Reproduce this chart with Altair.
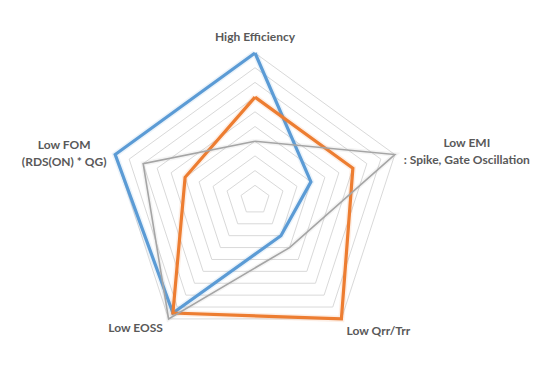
import math
import altair as alt
import pandas as pd

# ---- data ----
categories = ["High Efficiency", "Low EMI", "Low Qrr/Trr", "Low EOSS", "Low FOM"]
axis_labels = ["High Efficiency", "Low EMI\n: Spike, Gate Oscillation", "Low Qrr/Trr",
               "Low EOSS", "Low FOM\n(RDS(ON) * QG)"]
series_names = ["Series 1", "Series 2", "Series 3"]
series1 = [10, 4, 3, 9.5, 10]
series2 = [7, 7, 10, 9.5, 5]
series3 = [4, 10, 4, 10, 8]
grid_levels = [1, 2, 3, 4, 5, 6, 7, 8, 9, 10]
max_value = 10

# ---- layout ----
W, H = 537, 351
CX, CY = 247, 192          # centre of radar inside the plot area (px)
UNIT = 14.7                # px per value unit
x_dom = [-CX / UNIT, (W - CX) / UNIT]
y_dom = [-(H - CY) / UNIT, CY / UNIT]
N = len(categories)

xs = alt.Scale(domain=x_dom)
ys = alt.Scale(domain=y_dom)

def poly_rows(name, vals):
    rows = []
    for k in range(N + 1):
        rows.append({"series": name, "k": k, "cat": categories[k % N], "v": vals[k % N]})
    return rows

calc_x = f"datum.v * sin(datum.k * 2 * PI / {N})"
calc_y = f"datum.v * cos(datum.k * 2 * PI / {N})"

def base(df):
    return (alt.Chart(df)
            .transform_calculate(x=calc_x, y=calc_y)
            .encode(x=alt.X("x:Q", scale=xs, axis=None),
                    y=alt.Y("y:Q", scale=ys, axis=None)))

# grid rings
grid_rows = []
for lv in grid_levels:
    for k in range(N + 1):
        grid_rows.append({"series": f"g{lv}", "k": k, "v": lv})
grid = base(pd.DataFrame(grid_rows)).mark_line(color="#D9D9D9", strokeWidth=1).encode(
    detail="series:N", order="k:Q")

styles = [("#5B9BD5", 3.2), ("#ED7D31", 3.2), ("#A5A5A5", 1.6)]
layers = [grid]
for name, vals, (col, sw) in zip(series_names, [series1, series2, series3], styles):
    df = pd.DataFrame(poly_rows(name, vals))
    glow = base(df).mark_line(color=col, strokeWidth=sw + 3, opacity=0.12,
                              strokeJoin="miter").encode(order="k:Q")
    ln = base(df).mark_line(color=col, strokeWidth=sw, strokeJoin="miter").encode(order="k:Q")
    layers += [glow, ln]

# axis labels
label_df = pd.DataFrame({"k": list(range(N)), "v": [max_value] * N, "label": axis_labels})
offsets = [(0, -16), (72, -12), (37, 12), (-33, 9), (-51, -10)]
for k, (dx, dy) in enumerate(offsets):
    t = (base(label_df)
         .transform_filter(f"datum.k == {k}")
         .mark_text(font="Lato", fontSize=12, fontWeight="bold", color="#595959",
                    align="center", baseline="middle", dx=dx, dy=dy,
                    lineBreak="\n", lineHeight=17)
         .encode(text="label:N"))
    layers.append(t)

chart = (alt.layer(*layers)
         .properties(width=W, height=H, autosize=alt.AutoSizeParams(type="none"),
                     padding=0, background="white")
         .configure_view(stroke=None))

chart.save("out.html", embed_options={"renderer": "svg", "actions": False})
